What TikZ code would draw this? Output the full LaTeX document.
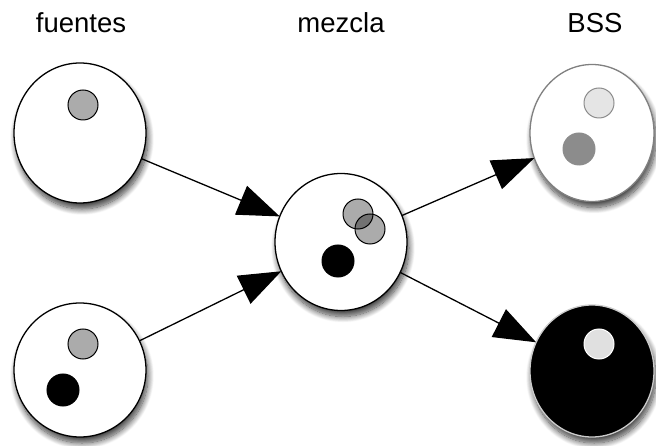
\documentclass[tikz,border=0pt]{standalone}
\usepackage{fontspec}
\setmainfont{Liberation Sans}
\usetikzlibrary{arrows.meta,shapes.geometric,shadows.blur}
\begin{document}
\begin{tikzpicture}[x=1pt,y=-1pt,
  cell/.style={ellipse,draw,line width=1.3pt,fill=white,inner sep=0pt,outer sep=0pt,
    blur shadow={shadow xshift=2pt,shadow yshift=-6pt,shadow blur steps=12,shadow blur radius=6pt,shadow opacity=75}},
  dot/.style={circle,draw,line width=1pt,inner sep=0pt,minimum size=30pt},
  graydot/.style={dot,fill=black,fill opacity=0.33,draw opacity=1},
  blackdot/.style={dot,fill=black,minimum size=32pt},
  lbl/.style={anchor=base,font=\fontsize{27.5}{33}\selectfont},
  conn/.style={line width=1.3pt,-{Triangle[length=42pt,width=31pt]}}]
\useasboundingbox (0,0) rectangle (656,446);
\node[lbl] (t1) at (81,33) {fuentes};
\node[lbl] (t2) at (341,33) {mezcla};
\node[lbl] (t3) at (595,33) {BSS};
\node[cell,minimum width=132pt,minimum height=140pt] (tl) at (80,133) {};
\node[cell,minimum width=132pt,minimum height=134pt] (bl) at (80,370) {};
\node[cell,minimum width=132pt,minimum height=137pt] (mid) at (341,242) {};
\node[cell,draw=black!50,minimum width=124pt,minimum height=137pt] (tr) at (592,133) {};
\node[cell,draw=black!20,fill=black,minimum width=124pt,minimum height=132pt] (br) at (592,371) {};
\node[graydot] (a1) at (83,105) {};
\node[graydot] (b1) at (83,344) {};
\node[blackdot] (b2) at (63,390) {};
\node[graydot] (m1) at (358,214) {};
\node[graydot] (m2) at (370,229) {};
\node[blackdot] (m3) at (338,261) {};
\node[dot,draw=black!45,fill=black!10] (r1) at (599,103) {};
\node[dot,draw=black!45,fill=black!45,minimum size=32pt] (r2) at (579,149) {};
\node[dot,draw=white,fill=black!12] (r3) at (599,344) {};
\draw[conn] (tl) -- (mid);
\draw[conn] (bl) -- (mid);
\draw[conn] (mid) -- (tr);
\draw[conn] (mid) -- (br);
\end{tikzpicture}
\end{document}
